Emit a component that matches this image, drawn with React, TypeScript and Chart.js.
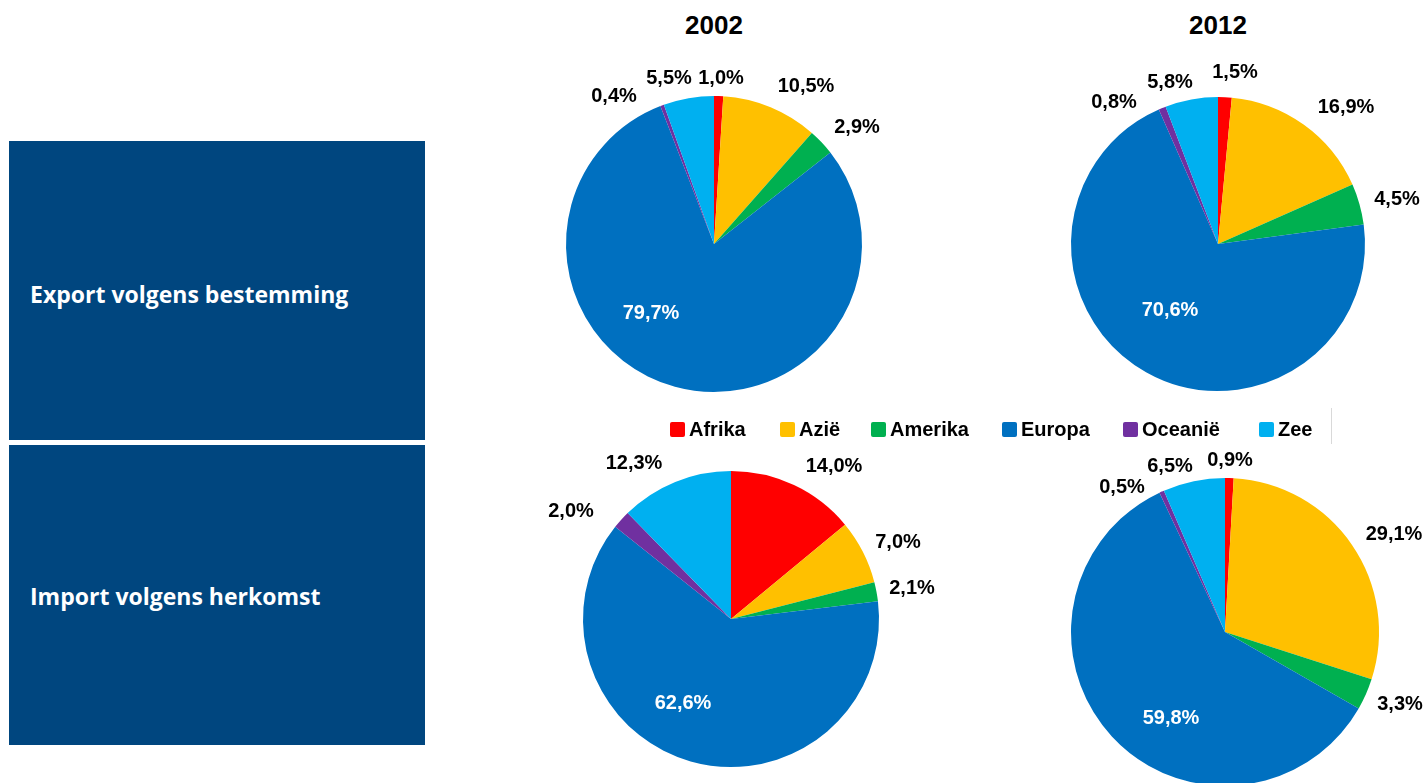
import React, { useEffect, useRef } from 'react';
import { Chart, registerables } from 'chart.js';

Chart.register(...registerables);

// ---------- data ----------
const categories = ['Afrika', 'Azië', 'Amerika', 'Europa', 'Oceanië', 'Zee'];
const export2002 = [1.0, 10.5, 2.9, 79.7, 0.4, 5.5];
const export2012 = [1.5, 16.9, 4.5, 70.6, 0.8, 5.8];
const import2002 = [14.0, 7.0, 2.1, 62.6, 2.0, 12.3];
const import2012 = [0.9, 29.1, 3.3, 59.8, 0.5, 6.5];
const yearTitles = ['2002', '2012'];
const rowTitles = ['Export volgens bestemming', 'Import volgens herkomst'];

// ---------- styles ----------
const sliceColors = ['#FF0000', '#FFC000', '#00B050', '#0070C0', '#7030A0', '#00B0F0'];
const labelColors = ['#000000', '#000000', '#000000', '#FFFFFF', '#000000', '#000000'];
const panelColor = '#00467F';
const FONT = '"Liberation Sans", Arial, sans-serif';

// label offsets (px) from pie centre, per slice
const offTL = [[7, -166], [92, -158], [143, -117], [-63, 69], [-100, -148], [-45, -166]];
const offTR = [[17, -172], [128, -137], [179, -45], [-48, 66], [-104, -142], [-48, -162]];
const offBL = [[103, -153], [167, -77], [181, -31], [-48, 84], [-160, -108], [-97, -156]];
const offBR = [[5, -172], [169, -98], [175, 72], [-54, 86], [-103, -145], [-55, -166]];

const fmt = (v: number) => v.toFixed(1).replace('.', ',') + '%';

function labelPlugin(offsets: number[][]) {
  return {
    id: 'sliceLabels',
    afterDatasetsDraw(chart: any) {
      const ctx = chart.ctx;
      const meta = chart.getDatasetMeta(0);
      const data = chart.data.datasets[0].data as number[];
      ctx.save();
      ctx.font = `bold 20px ${FONT}`;
      ctx.textAlign = 'center';
      ctx.textBaseline = 'middle';
      meta.data.forEach((arc: any, i: number) => {
        const { x, y } = arc.getProps(['x', 'y'], true);
        ctx.fillStyle = labelColors[i];
        ctx.fillText(fmt(data[i]), x + offsets[i][0], y + offsets[i][1]);
      });
      ctx.restore();
    },
  };
}

function Pie({ values, cx, cy, r, offsets }: { values: number[]; cx: number; cy: number; r: number; offsets: number[][] }) {
  const ref = useRef<HTMLCanvasElement>(null);
  const W = 440;
  const H = 400;
  useEffect(() => {
    if (!ref.current) return;
    const chart = new Chart(ref.current, {
      type: 'pie',
      data: {
        labels: categories,
        datasets: [{ data: values, backgroundColor: sliceColors, borderWidth: 0, radius: r } as any],
      },
      options: {
        responsive: false,
        animation: false,
        events: [],
        radius: r,
        layout: { padding: 0 },
        plugins: { legend: { display: false }, tooltip: { enabled: false } },
      } as any,
      plugins: [labelPlugin(offsets)],
    });
    return () => chart.destroy();
  }, []);
  return (
    <canvas
      ref={ref}
      width={W}
      height={H}
      style={{ position: 'absolute', left: cx - W / 2, top: cy - H / 2, width: W, height: H }}
    />
  );
}

export default function App() {
  const legendX = [670, 780, 871, 1002, 1123, 1259];
  const rowTextStyle: React.CSSProperties = {
    position: 'absolute', left: 30, height: 30, lineHeight: '30px',
    color: '#FFFFFF', fontFamily: '"Open Sans", sans-serif', fontWeight: 700, fontSize: 23, whiteSpace: 'nowrap',
  };
  return (
    <div
      style={{
        position: 'absolute',
        left: 0,
        top: 0,
        width: 1427,
        height: 783,
        overflow: 'hidden',
        background: '#FFFFFF',
        fontFamily: FONT,
      }}
    >
      {/* left panels */}
      <div style={{ position: 'absolute', left: 9, top: 141, width: 416, height: 299, background: panelColor }} />
      <div style={{ position: 'absolute', left: 9, top: 445, width: 416, height: 300, background: panelColor }} />
      <div style={{ ...rowTextStyle, top: 279 }}>{rowTitles[0]}</div>
      <div style={{ ...rowTextStyle, top: 581 }}>{rowTitles[1]}</div>

      {/* year titles */}
      {[714, 1218].map((x, i) => (
        <div
          key={i}
          style={{
            position: 'absolute', left: x - 60, width: 120, top: 10, height: 30, lineHeight: '30px',
            textAlign: 'center', fontWeight: 700, fontSize: 26, color: '#000',
          }}
        >
          {yearTitles[i]}
        </div>
      ))}

      <Pie values={export2002} cx={714} cy={244} r={148} offsets={offTL} />
      <Pie values={export2012} cx={1218} cy={244} r={147} offsets={offTR} />
      <Pie values={import2002} cx={731} cy={619} r={148} offsets={offBL} />
      <Pie values={import2012} cx={1225} cy={632} r={154} offsets={offBR} />

      {/* legend */}
      {categories.map((c, i) => (
        <div
          key={c}
          style={{
            position: 'absolute', left: legendX[i], top: 417, height: 24, display: 'flex', alignItems: 'center',
            whiteSpace: 'nowrap',
          }}
        >
          <div style={{ width: 15, height: 15, borderRadius: 2, background: sliceColors[i], marginRight: 4 }} />
          <span style={{ fontWeight: 700, fontSize: 20, color: '#000', lineHeight: '24px' }}>{c}</span>
        </div>
      ))}
      <div style={{ position: 'absolute', left: 1331, top: 408, width: 1, height: 36, background: '#D9D9D9' }} />
    </div>
  );
}
